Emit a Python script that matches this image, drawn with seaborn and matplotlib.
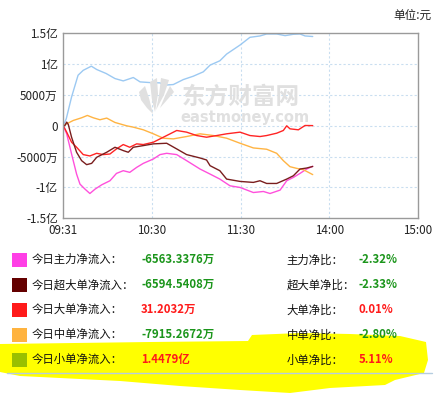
import numpy as np
import pandas as pd
import seaborn as sns
import matplotlib.pyplot as plt
from matplotlib.patches import Rectangle, Polygon

# 数据（单位：万元），横轴为开盘后的交易分钟数
t_small = [0, 2, 5.6, 10, 13.5, 19, 22.6, 29, 35, 40.6, 47.4, 52, 58.7, 65.5, 67.7, 74.5, 81.3, 88, 94.8,
           99.4, 106, 110.6, 119.7, 126.4, 133.2, 137.7, 144.5, 150.2, 155.8, 160.3, 163.7, 168.9]
v_small = [0, 1140, 4670, 8200, 9000, 9670, 9130, 8480, 7660, 7280, 7830, 7120, 7010, 6960, 6580, 6690, 7500,
           8040, 8750, 9840, 10540, 11630, 13100, 14350, 14570, 14890, 14890, 14620, 14840, 14890, 14570, 14479]

t_mid = [0, 2.3, 6.8, 12.4, 16.3, 20.3, 24.8, 29.4, 35, 42.9, 47.4, 54.2, 61, 67.7, 74.5, 83.5, 92.6,
         101.6, 110.6, 119.7, 128.7, 137.7, 144.5, 149, 153.5, 158, 162.6, 168.9]
v_mid = [0, 330, 870, 1300, 1680, 1300, 980, 1250, 540, 0, -220, -650, -1300, -2010, -2120, -1740, -1300,
         -1580, -2010, -2830, -3590, -3800, -4460, -5650, -6630, -6900, -7120, -7915]

t_big = [0, 2.3, 5.6, 9, 13.5, 18, 22.6, 27, 31.6, 36, 40.6, 45, 49.7, 54.2, 61, 65.5, 70, 76.8, 83.5,
         90.3, 97, 103.9, 110.6, 119.7, 126.4, 133.2, 137.7, 144.5, 149, 151.3, 153.5, 159.2, 163.7, 168.9]
v_big = [0, -1030, -2660, -3480, -4670, -4890, -4460, -4670, -4570, -3750, -3040, -3480, -2930, -3040, -2660,
         -2120, -1580, -760, -1030, -1580, -1850, -1580, -1300, -1030, -1580, -1740, -1580, -1200, -760, 0,
         -490, -650, 50, 31]

t_super = [0, 1.1, 2.3, 3.4, 5.6, 9, 12.4, 15.8, 19.2, 22.6, 24.8, 29.4, 35, 40.6, 44, 47.4, 54.2, 61, 70,
           76.8, 83.5, 92.6, 97, 99.4, 106, 110.6, 119.7, 128.7, 133.2, 137.7, 144.5, 151.3, 155.8, 160.3,
           164.8, 168.9]
v_super = [0, 50, 600, 200, -1850, -4290, -5650, -6300, -6090, -5110, -4840, -4290, -3480, -4020, -4290,
           -3480, -3210, -2930, -2830, -3750, -4670, -5220, -5540, -6470, -7280, -8640, -9020, -9180, -8910,
           -9350, -9350, -8640, -8100, -7010, -6850, -6594]

t_main = [0, 2.3, 5.6, 9, 11.3, 14.7, 18, 21.5, 26, 31.6, 36, 40.6, 45, 49.7, 54.2, 61, 65.5, 70, 76.8,
          83.5, 92.6, 99.4, 106, 112.9, 119.7, 128.7, 135.5, 140, 146.8, 151.3, 155.8, 160.3, 164.8, 168.9]
v_main = [0, -1300, -4570, -7830, -9460, -10270, -10980, -10270, -9570, -8910, -7720, -7280, -7550, -6740,
          -6090, -5380, -4670, -4460, -4670, -5650, -7010, -7830, -8640, -9730, -10000, -10820, -10650,
          -10980, -10430, -8910, -8370, -7720, -7010, -6563]

x_ticks = [0, 60, 120, 180, 240]
x_labels = ['09:31', '10:30', '11:30', '14:00', '15:00']
y_ticks = [15000, 10000, 5000, 0, -5000, -10000, -15000]
y_labels = ['1.5亿', '1亿', '5000万', '0', '-5000万', '-1亿', '-1.5亿']

row_names = ['今日主力净流入：', '今日超大单净流入：', '今日大单净流入：', '今日中单净流入：', '今日小单净流入：']
row_values = ['-6563.3376万', '-6594.5408万', '31.2032万', '-7915.2672万', '1.4479亿']
ratio_names = ['主力净比：', '超大单净比：', '大单净比：', '中单净比：', '小单净比：']
ratio_values = ['-2.32%', '-2.33%', '0.01%', '-2.80%', '5.11%']
box_colors = ['#ff3fe6', '#640000', '#ff1a1a', '#ffb33f', '#99c000']

series = {
    'main': (t_main, v_main, '#ff50dc'),
    'small': (t_small, v_small, '#9cc9f2'),
    'mid': (t_mid, v_mid, '#ffb443'),
    'big': (t_big, v_big, '#ff2424'),
    'super': (t_super, v_super, '#7a1e1e'),
}

frames = []
for name, (t, v, c) in series.items():
    frames.append(pd.DataFrame({'t': t, 'v': v, 's': name}))
df = pd.concat(frames, ignore_index=True)
palette = {name: s[2] for name, s in series.items()}

sns.set_style('white')
plt.rcParams['font.family'] = ['Noto Sans CJK SC', 'DejaVu Sans']
plt.rcParams['axes.unicode_minus'] = False

W, H = 442, 394
fig = plt.figure(figsize=(W / 100, H / 100), dpi=100)

def fx(px):
    return px / W

def fy(py):
    return 1 - py / H

ax = fig.add_axes([fx(63.3), fy(218.3), fx(417.7) - fx(63.3), fy(33.3) - fy(218.3)])
ax.set_facecolor('none')

sns.lineplot(data=df, x='t', y='v', hue='s', hue_order=list(series.keys()), palette=palette,
             legend=False, linewidth=1.0, ax=ax)

ax.set_xlim(0, 240)
ax.set_ylim(-15000, 15000)
ax.set_xticks(x_ticks)
ax.set_xticklabels(x_labels)
ax.set_yticks(y_ticks)
ax.set_yticklabels(y_labels)
ax.set_xlabel('')
ax.set_ylabel('')
ax.tick_params(length=0, labelsize=8.4, colors='#222222', pad=4)
for sp in ax.spines.values():
    sp.set_color('#9a9a9a')
    sp.set_linewidth(1.0)
for y in y_ticks[1:-1]:
    ax.axhline(y, color='#c9def0', lw=0.8, ls=(0, (2, 2)), zorder=0)
for x in x_ticks[1:-1]:
    ax.axvline(x, color='#c9def0', lw=0.8, ls=(0, (2, 2)), zorder=0)

# 水印
wm = '#e0e0e0'
ax.text(0.335, 0.66, '东方财富网', transform=ax.transAxes, fontsize=17, fontweight='bold',
        color=wm, ha='left', va='center', zorder=0.5)
ax.text(0.33, 0.545, 'eastmoney.com', transform=ax.transAxes, fontsize=10.5, fontweight='bold',
        color=wm, ha='left', va='center', family='DejaVu Sans', zorder=0.5)
logo = [
    [(139, 92), (145, 86), (149, 98), (153, 114), (147, 108), (141, 100)],
    [(150, 82), (157, 78), (158, 94), (155, 112), (152, 100)],
    [(161, 78), (169, 80), (164, 95), (156, 110), (159, 95)],
    [(170, 86), (174, 92), (160, 108), (165, 96)],
]
for blade in logo:
    fig.patches.append(Polygon([(fx(a), fy(b)) for a, b in blade], closed=True, facecolor=wm,
                               edgecolor='none', transform=fig.transFigure, zorder=0))

fig.text(fx(432), fy(15), '单位:元', fontsize=8.4, ha='right', va='center', color='#222222')

# 黄色高亮
hl = [(0, 344), (150, 342), (248, 341), (252, 335), (300, 333), (350, 334), (400, 336), (426, 342),
      (428, 360), (424, 373), (395, 380), (385, 385), (330, 388), (290, 393), (240, 390), (180, 386),
      (120, 381), (60, 378), (20, 376), (0, 372)]
fig.patches.append(Polygon([(fx(a), fy(b)) for a, b in hl], closed=True, facecolor='#ffff00',
                           edgecolor='none', transform=fig.transFigure, zorder=0))
fig.add_artist(plt.Line2D([fx(7), fx(432)], [fy(372.7), fy(372.7)], color='#b5cde0', lw=1.0))

row_y = [259.7, 284.7, 309.7, 334.7, 359.7]
for i in range(5):
    y = row_y[i]
    fig.patches.append(Rectangle((fx(12), fy(y + 7)), fx(14.7), fy(y - 7) - fy(y + 7),
                                 facecolor=box_colors[i], edgecolor='none', transform=fig.transFigure))
    fig.text(fx(31.5), fy(y), row_names[i], fontsize=8.2, va='center', ha='left', color='#111111')
    vc = '#ff1a1a' if not row_values[i].startswith('-') else '#1b951b'
    fig.text(fx(141), fy(y), row_values[i], fontsize=8.2, fontweight='bold', va='center', ha='left', color=vc)
    fig.text(fx(286.5), fy(y), ratio_names[i], fontsize=8.2, va='center', ha='left', color='#111111')
    rc = '#ff1a1a' if not ratio_values[i].startswith('-') else '#1b951b'
    fig.text(fx(358.5), fy(y), ratio_values[i], fontsize=8.2, fontweight='bold', va='center', ha='left', color=rc)

fig.savefig('out.png', dpi=100)
